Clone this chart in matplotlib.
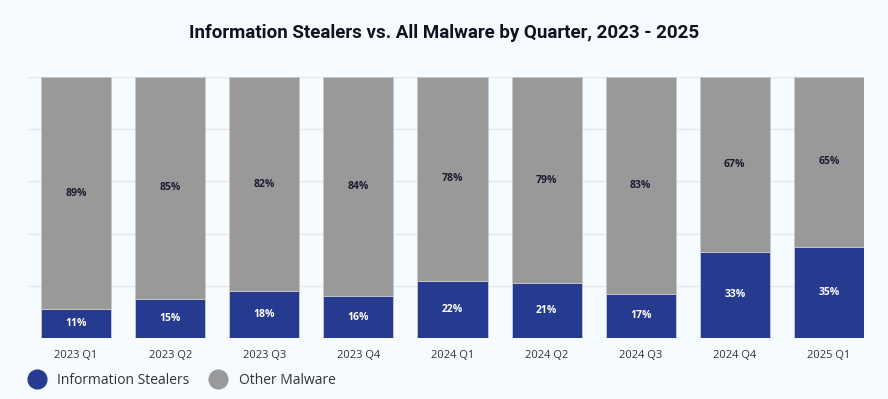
import matplotlib
matplotlib.use("Agg")
import matplotlib.pyplot as plt
from matplotlib.lines import Line2D
import numpy as np

quarters = ["2023 Q1", "2023 Q2", "2023 Q3", "2023 Q4", "2024 Q1",
            "2024 Q2", "2024 Q3", "2024 Q4", "2025 Q1"]
stealers = [11, 15, 18, 16, 22, 21, 17, 33, 35]
other = [89, 85, 82, 84, 78, 79, 83, 67, 65]

BG = "#f5fbfe"
BLUE = "#263b8f"
GRAY = "#999999"

plt.rcParams['font.family'] = ['Open Sans', 'DejaVu Sans']

fig = plt.figure(figsize=(8.88, 3.99), dpi=100, facecolor=BG)
ax = fig.add_axes([28/888, 61/399, 836/888, 261/399], facecolor=BG)

x = np.arange(len(quarters))
w = 70/94
ax.bar(x, stealers, width=w, color=BLUE, edgecolor="#c8ccd8", linewidth=0.6, zorder=3)
ax.bar(x, other, width=w, bottom=stealers, color=GRAY, edgecolor="#c8c8c8", linewidth=0.6, zorder=3)

for xi, s, o in zip(x, stealers, other):
    ax.text(xi, s/2, f"{s}%", ha="center", va="center", color="white",
            fontsize=7.5, fontweight="bold", zorder=4)
    ax.text(xi, s + o/2, f"{o}%", ha="center", va="center", color="#1c1c30",
            fontsize=7.5, fontweight="bold", zorder=4)

ax.set_xlim(-48/94, 8 + 35/94)
ax.set_ylim(0, 100)
ax.set_yticks([0, 20, 40, 60, 80, 100])
ax.yaxis.grid(True, color="#e4e8ec", linewidth=1, zorder=0)
ax.tick_params(axis="y", left=False, labelleft=False)
ax.tick_params(axis="x", bottom=False, pad=5)
ax.set_xticks(x)
ax.set_xticklabels(quarters, fontsize=8, color="#333333")
for sp in ax.spines.values():
    sp.set_visible(False)

fig.text(0.5, 1 - 33/399, "Information Stealers vs. All Malware by Quarter, 2023 - 2025",
         ha="center", va="center", fontsize=13.5, fontweight="bold", color="#111122",
         family=["Roboto", "DejaVu Sans"])

handles = [Line2D([], [], marker="o", linestyle="", markersize=13.5,
                  markerfacecolor=BLUE, markeredgecolor=BLUE),
           Line2D([], [], marker="o", linestyle="", markersize=13.5,
                  markerfacecolor=GRAY, markeredgecolor=GRAY)]
fig.legend(handles, ["Information Stealers", "Other Malware"],
           loc="center left", bbox_to_anchor=(16/888, 19/399), ncol=2,
           frameon=False, fontsize=10, labelcolor="#333333",
           handletextpad=0.85, columnspacing=1.5, handlelength=1.2)

fig.savefig("out.png", dpi=100, facecolor=BG)
